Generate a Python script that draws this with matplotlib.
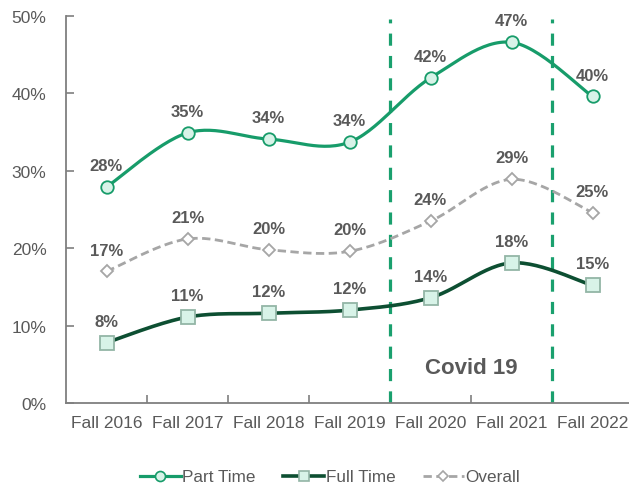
import numpy as np
import matplotlib.pyplot as plt
from matplotlib.lines import Line2D

# フォント設定 (Arial 相当)
plt.rcParams['font.family'] = ['Liberation Sans', 'DejaVu Sans']

# --------------------------------------------------
# データ
# --------------------------------------------------
terms = ["Fall 2016", "Fall 2017", "Fall 2018", "Fall 2019", "Fall 2020", "Fall 2021", "Fall 2022"]
part_time = [27.9, 34.9, 34.1, 33.7, 42.0, 46.6, 39.6]   # [%]
full_time = [7.8, 11.1, 11.6, 12.0, 13.6, 18.1, 15.2]    # [%]
overall = [17.0, 21.2, 19.8, 19.6, 23.5, 28.9, 24.6]     # [%]
covid_bounds = [3.5, 5.5]   # コロナ期間の区切り (カテゴリ間)
covid_label = "Covid 19"

text_gray = '#595959'
green = '#179c6a'
dark_green = '#0d4f32'
gray = '#a6a6a6'
mint = '#d8f3e8'


def smooth(y, n=30):
    """Excel 風のスムージング (Catmull-Rom を Bezier で評価)"""
    x = np.arange(len(y), dtype=float)
    y = np.asarray(y, dtype=float)
    pts = np.column_stack([x, y])
    out = [pts[0]]
    t = np.linspace(0, 1, n)[1:, None]
    for i in range(len(pts) - 1):
        p0 = pts[max(i - 1, 0)]
        p1 = pts[i]
        p2 = pts[i + 1]
        p3 = pts[min(i + 2, len(pts) - 1)]
        c1 = p1 + (p2 - p0) / 6.0
        c2 = p2 - (p3 - p1) / 6.0
        seg = ((1 - t) ** 3) * p1 + 3 * ((1 - t) ** 2) * t * c1 + 3 * (1 - t) * t ** 2 * c2 + t ** 3 * p2
        out.extend(seg)
    out = np.array(out)
    return out[:, 0], out[:, 1]


fig = plt.figure(figsize=(6.29, 4.89), dpi=100)
ax = fig.add_axes([66 / 629, 85 / 489, 567 / 629, 387 / 489])

x = np.arange(len(terms))

series = [
    # (値, 色, 線幅, 線種, マーカー, サイズ, マーカー枠色, マーカー塗り, ラベル)
    (part_time, green, 2.3, '-', 'o', 9, green, mint, "Part Time"),
    (full_time, dark_green, 2.6, '-', 's', 9.5, '#93b5a6', mint, "Full Time"),
    (overall, gray, 2.0, (0, (3.0, 1.6)), 'D', 6.5, gray, 'white', "Overall"),
]

handles = []
for vals, col, lw, ls, mk, ms, mec, mfc, lab in series:
    sx, sy = smooth(vals)
    ax.plot(sx, np.array(sy) / 100, color=col, lw=lw, linestyle=ls, zorder=3)
    ax.plot(x, np.array(vals) / 100, linestyle='none', marker=mk, markersize=ms,
            markeredgecolor=mec, markerfacecolor=mfc, markeredgewidth=1.3, zorder=4)
    for xi, v in zip(x, vals):
        ax.annotate(f"{v:.0f}%", (xi, v / 100), xytext=(0, 10), textcoords='offset points',
                    ha='center', va='bottom', fontsize=12, fontweight='bold', color=text_gray)
    handles.append(Line2D([], [], color=col, lw=lw, linestyle=ls, marker=mk, markersize=ms * 0.8,
                          markeredgecolor=mec, markerfacecolor=mfc, markeredgewidth=1.2, label=lab))

# コロナ期間の縦線
for b in covid_bounds:
    ax.plot([b, b], [0, 0.496], color='#1aa06e', lw=2.3, linestyle=(0, (3.8, 3.2)), zorder=2)
ax.text(sum(covid_bounds) / 2, 0.046, covid_label, ha='center', va='center',
        fontsize=16, fontweight='bold', color=text_gray)

# 軸の設定
ax.set_xlim(-0.5, len(terms) - 0.5)
ax.set_ylim(0, 0.5)
ax.set_yticks(np.arange(0, 0.51, 0.1))
ax.set_yticklabels([f"{int(round(v * 100))}%" for v in np.arange(0, 0.51, 0.1)])
ax.set_xticks(np.arange(0.5, len(terms) - 1, 1.0))
ax.set_xticklabels([])
ax.set_xticks(x, minor=True)
ax.set_xticklabels(terms, minor=True)
ax.tick_params(axis='x', which='major', direction='in', length=6, width=1.2, color='#7f7f7f')
ax.tick_params(axis='x', which='minor', length=0, pad=9, labelsize=12.5, labelcolor=text_gray)
ax.tick_params(axis='y', direction='in', length=6, width=1.2, color='#7f7f7f', pad=14,
               labelsize=12.5, labelcolor=text_gray)

for s in ['top', 'right']:
    ax.spines[s].set_visible(False)
for s in ['left', 'bottom']:
    ax.spines[s].set_color('#7f7f7f')
    ax.spines[s].set_linewidth(1.3)

fig.legend(handles=handles, loc='center', bbox_to_anchor=(330 / 629, 1 - 478 / 489), ncol=3,
           frameon=False, fontsize=12.3, labelcolor=text_gray, handlelength=2.4,
           handletextpad=0.1, columnspacing=1.6)

plt.savefig("out.png", dpi=100)
